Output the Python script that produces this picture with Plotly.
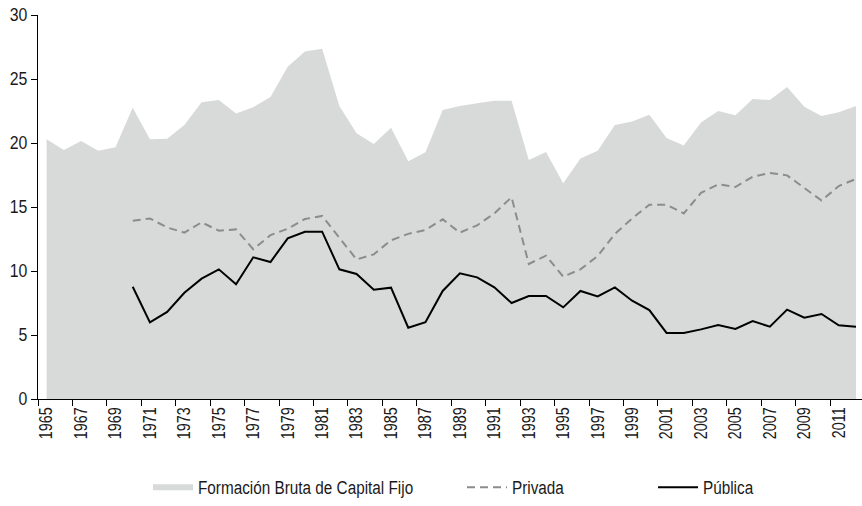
import plotly.graph_objects as go

years = list(range(1965, 2013))
fbcf = [20.3, 19.45, 20.16, 19.4, 19.66, 22.76, 20.3, 20.34, 21.4, 23.18,
        23.36, 22.3, 22.8, 23.6, 25.96, 27.14, 27.37, 22.9, 20.76, 19.92,
        21.2, 18.57, 19.27, 22.58, 22.9, 23.1, 23.3, 23.3, 18.67, 19.3,
        16.85, 18.78, 19.4, 21.4, 21.67, 22.2, 20.4, 19.8, 21.6, 22.5,
        22.16, 23.44, 23.36, 24.38, 22.84, 22.1, 22.4, 22.9]
years_sub = list(range(1970, 2013))
privada = [13.93, 14.1, 13.4, 13.0, 13.8, 13.15, 13.25, 11.7, 12.8, 13.3,
           14.06, 14.3, 12.6, 10.9, 11.3, 12.4, 12.9, 13.2, 14.04, 13.0,
           13.57, 14.5, 15.76, 10.55, 11.2, 9.56, 10.13, 11.17, 12.9, 14.1,
           15.18, 15.18, 14.5, 16.1, 16.77, 16.56, 17.37, 17.66, 17.47, 16.5,
           15.5, 16.64, 17.19]
publica = [8.77, 5.99, 6.8, 8.3, 9.4, 10.13, 8.96, 11.07, 10.7, 12.55,
           13.07, 13.07, 10.13, 9.77, 8.54, 8.7, 5.57, 6.0, 8.44, 9.82,
           9.5, 8.72, 7.5, 8.05, 8.05, 7.16, 8.44, 8.02, 8.72, 7.68,
           6.95, 5.16, 5.16, 5.44, 5.78, 5.47, 6.09, 5.65, 6.98, 6.35,
           6.64, 5.76, 5.65]
label_years = list(range(1965, 2012, 2))
names = ["Formación Bruta de Capital Fijo", "Privada", "Pública"]

FONT = "Liberation Sans, Arial, sans-serif"
TXT = "#1a1a1a"

fig = go.Figure()
fig.add_trace(go.Scatter(x=years, y=fbcf, mode="none", fill="tozeroy",
                         fillcolor="#d8d9d9", name=names[0], legend="legend",
                         showlegend=True, hoverinfo="skip"))
fig.add_trace(go.Scatter(x=years_sub, y=privada, mode="lines",
                         line=dict(color="#8c8c8c", width=2, dash="8px,5px"),
                         name=names[1], legend="legend2"))
fig.add_trace(go.Scatter(x=years_sub, y=publica, mode="lines",
                         line=dict(color="#000000", width=2),
                         name=names[2], legend="legend3"))

W, H = 862, 506
ml, mr, mt, mb = 38, 0, 15, 107
pw = W - ml - mr
ph = H - mt - mb

def px2paper(p):
    return (p - ml) / pw

leg_common = dict(orientation="h", yanchor="middle", y=-(488 - (H - mb)) / ph,
                  xanchor="left",
                  font=dict(family=FONT, size=18, color=TXT),
                  bgcolor="rgba(0,0,0,0)", itemwidth=40)

fig.update_layout(
    width=W, height=H,
    margin=dict(l=ml, r=mr, t=mt, b=mb),
    paper_bgcolor="white", plot_bgcolor="white",
    font=dict(family=FONT, size=16, color=TXT),
    legend=dict(x=px2paper(148), **leg_common),
    legend2=dict(x=px2paper(462), **leg_common),
    legend3=dict(x=px2paper(653), **leg_common),
    xaxis=dict(range=[1964.5, 2012.35], tickmode="array", tickvals=label_years,
               ticktext=[str(y) for y in label_years], tickangle=-90,
               ticks="", showline=True, linecolor="black", linewidth=1.2,
               showgrid=False, zeroline=False,
               tickfont=dict(family=FONT, size=18, color=TXT),
               minor=dict(ticks="outside", tick0=1964.5, dtick=2, ticklen=6,
                          tickcolor="black", tickwidth=1.2, showgrid=False)),
    yaxis=dict(range=[0, 30], tickmode="array", tickvals=[0, 5, 10, 15, 20, 25, 30],
               ticks="outside", ticklen=6, tickcolor="black", tickwidth=1.2,
               showline=True, linecolor="black", linewidth=1.2,
               showgrid=False, zeroline=False,
               tickfont=dict(family=FONT, size=18, color=TXT)),
)

post = """
document.body.style.margin='0';document.body.style.padding='0';
var gd = document.getElementById('{plot_id}');
function squeeze(sel, f){
  gd.querySelectorAll(sel).forEach(function(t){
    if (t.getAttribute('data-sq')) return;
    var w = t.getComputedTextLength();
    if (!w) return;
    t.setAttribute('data-sq', '1');
    t.setAttribute('lengthAdjust','spacingAndGlyphs');
    t.setAttribute('textLength', (w*f).toFixed(2));
  });
}
function runAll(){
  squeeze('text[class^="legend"]', 0.85);
  squeeze('g.ytick text', 0.88);
  squeeze('g.xtick text', 0.8);
}
runAll();
new MutationObserver(function(){ runAll(); }).observe(gd, {childList: true, subtree: true});
requestAnimationFrame(runAll);
setTimeout(runAll, 0);
setTimeout(runAll, 100);
if (gd.on) { gd.on('plotly_afterplot', runAll); }
"""

fig.write_html("out.html", config={"displayModeBar": False}, post_script=post)
